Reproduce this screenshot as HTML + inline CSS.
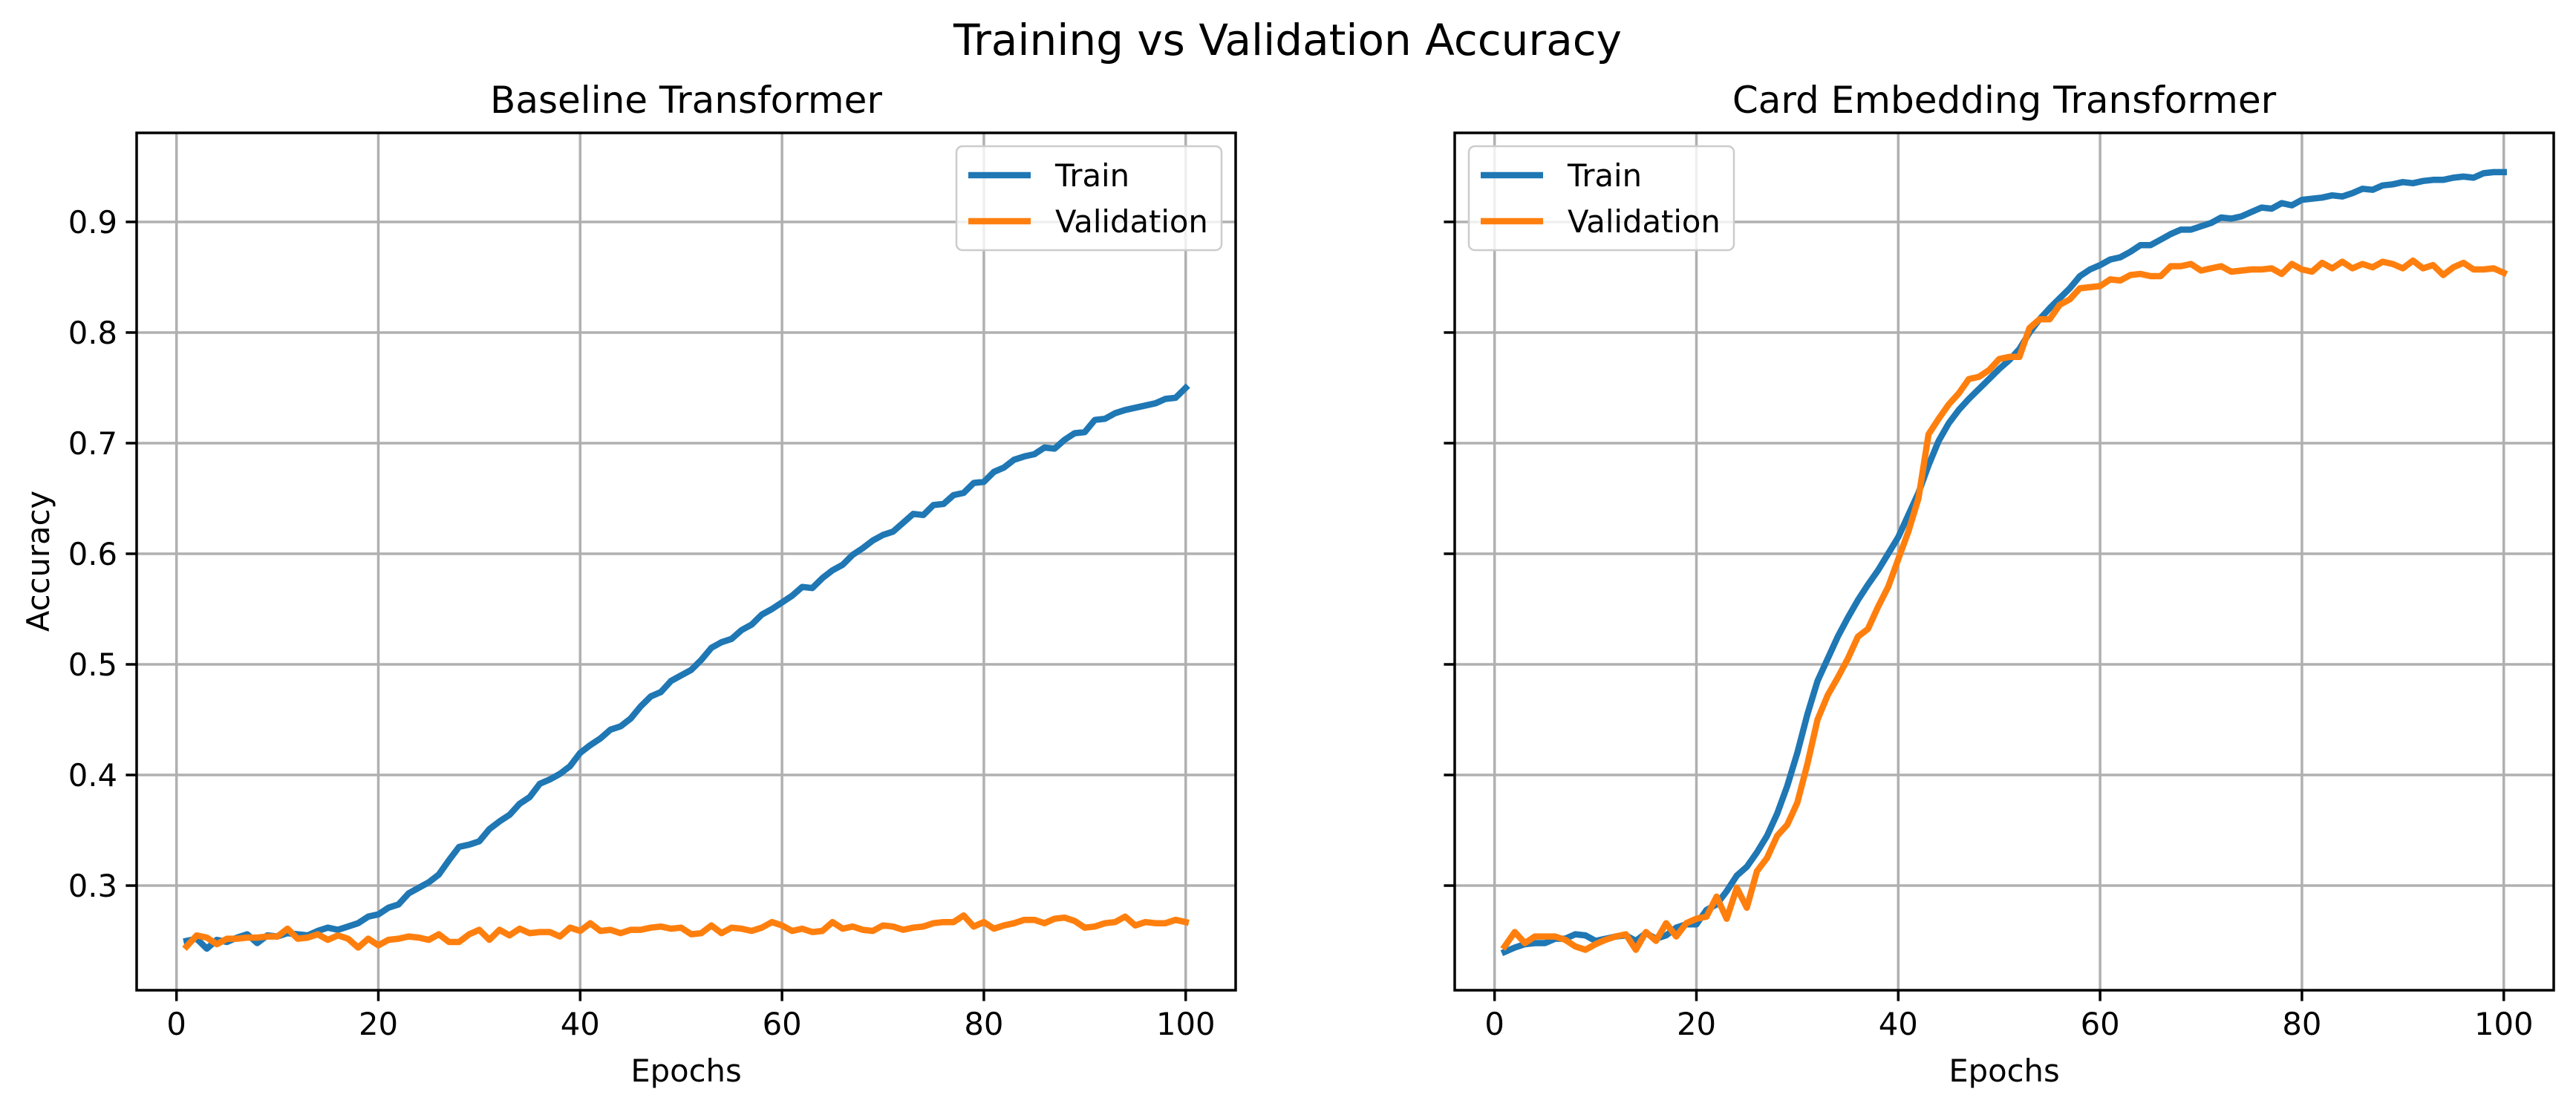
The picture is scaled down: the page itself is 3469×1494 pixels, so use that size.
<!DOCTYPE html>
<html><head><meta charset="utf-8"><style>
html,body{margin:0;padding:0;background:#fff}
svg{display:block;font-family:"DejaVu Sans","Liberation Sans",sans-serif}
</style></head><body>
<svg id="fig" width="3469" height="1494" viewBox="0 0 3469 1494" xmlns="http://www.w3.org/2000/svg">
<rect width="3469" height="1494" fill="#fff"/>
<text x="1734" y="74" font-size="58" text-anchor="middle">Training vs Validation Accuracy</text>
</svg>
<script>
const epochs = Array.from({length:100},(_,i)=>i+1);
const baseTrain = [.250,.252,.243,.251,.249,.253,.256,.248,.255,.254,
.257,.256,.255,.259,.262,.260,.263,.266,.272,.274,
.280,.283,.293,.298,.303,.310,.323,.335,.337,.340,
.351,.358,.364,.374,.380,.392,.396,.401,.408,.420,
.427,.433,.441,.444,.451,.462,.471,.475,.485,.490,
.495,.504,.515,.520,.523,.531,.536,.545,.550,.556,
.562,.570,.569,.578,.585,.590,.599,.605,.612,.617,
.620,.628,.636,.635,.644,.645,.653,.655,.664,.665,
.674,.678,.685,.688,.690,.696,.695,.703,.709,.710,
.721,.722,.727,.730,.732,.734,.736,.740,.741,.750];
const baseVal = [.245,.255,.253,.247,.252,.252,.253,.253,.254,.254,
.261,.252,.253,.256,.251,.255,.252,.244,.252,.246,
.251,.252,.254,.253,.251,.256,.249,.249,.256,.260,
.251,.260,.255,.261,.257,.258,.258,.254,.262,.259,
.266,.259,.260,.257,.260,.260,.262,.263,.261,.262,
.256,.257,.264,.257,.262,.261,.259,.262,.267,.264,
.259,.261,.258,.259,.267,.261,.263,.260,.259,.264,
.263,.260,.262,.263,.266,.267,.267,.273,.263,.267,
.261,.264,.266,.269,.269,.266,.270,.271,.268,.262,
.263,.266,.267,.272,.264,.267,.266,.266,.269,.267];
const cardTrain = [.240,.244,.247,.248,.248,.252,.252,.256,.255,.250,
.252,.254,.255,.250,.257,.252,.255,.262,.265,.265,
.278,.283,.295,.309,.317,.330,.345,.365,.390,.420,
.455,.485,.505,.525,.542,.558,.572,.585,.600,.615,
.635,.655,.680,.702,.718,.730,.740,.749,.758,.767,
.775,.785,.800,.812,.822,.831,.840,.851,.857,.861,
.866,.868,.873,.879,.879,.884,.889,.893,.893,.896,
.899,.904,.903,.905,.909,.913,.912,.917,.915,.920,
.921,.922,.924,.923,.926,.930,.929,.933,.934,.936,
.935,.937,.938,.938,.940,.941,.940,.944,.945,.945];
const cardVal = [.245,.258,.248,.254,.254,.254,.251,.245,.242,.247,
.251,.254,.256,.242,.258,.250,.266,.254,.266,.270,
.272,.290,.270,.298,.280,.313,.325,.345,.355,.375,
.410,.450,.472,.488,.505,.525,.532,.552,.570,.595,
.620,.650,.708,.722,.735,.745,.758,.760,.766,.776,
.778,.778,.804,.812,.812,.825,.830,.840,.841,.842,
.848,.847,.852,.853,.851,.851,.860,.860,.862,.856,
.858,.860,.855,.856,.857,.857,.858,.853,.862,.857,
.855,.863,.858,.864,.858,.862,.859,.864,.862,.858,
.865,.858,.861,.852,.859,.863,.857,.857,.858,.854];
const xTicks = [0,20,40,60,80,100];
const yTicks = [0.3,0.4,0.5,0.6,0.7,0.8,0.9];
const seriesNames = ["Train","Validation"];
const seriesColors = ["#1f77b4","#ff7f0e"];

const NS="http://www.w3.org/2000/svg";
const svg=document.getElementById('fig');
function mk(tag,attrs,parent){const e=document.createElementNS(NS,tag);for(const k in attrs)e.setAttribute(k,attrs[k]);(parent||svg).appendChild(e);return e;}
const X0=-3.95,X1=104.95,Y0=0.2054,Y1=0.9805,TOP=179,BOT=1334;
function yS(v){return BOT-(v-Y0)/(Y1-Y0)*(BOT-TOP);}

function panel(L,R,title,train,val,showYLabels,legendX,key){
  const xS=v=>L+(v-X0)/(X1-X0)*(R-L);
  const g=mk('g',{});
  
  
  for(const t of xTicks){
    const l=mk('line',{x1:xS(t),x2:xS(t),y1:TOP,y2:BOT,stroke:'#b0b0b0','stroke-width':3.5},g);
    
    
    const tk=mk('line',{x1:xS(t),x2:xS(t),y1:BOT,y2:BOT+14.6,stroke:'#000','stroke-width':3.5},g);
    
    
    const tx=mk('text',{x:xS(t),y:BOT+60,'font-size':41.7,'text-anchor':'middle'},g);
    tx.textContent=t;
    
    
  }
  for(const t of yTicks){
    const l=mk('line',{x1:L,x2:R,y1:yS(t),y2:yS(t),stroke:'#b0b0b0','stroke-width':3.5},g);
    
    
    const tk=mk('line',{x1:L-14.6,x2:L,y1:yS(t),y2:yS(t),stroke:'#000','stroke-width':3.5},g);
    
    
    if(showYLabels){
      const tx=mk('text',{x:L-26,y:yS(t)+15,'font-size':41.7,'text-anchor':'end'},g);
      tx.textContent=t.toFixed(1);
      
      
    }
  }
  [train,val].forEach((s,i)=>{
    const p=mk('polyline',{points:s.map((v,j)=>xS(epochs[j]).toFixed(1)+','+yS(v).toFixed(1)).join(' '),fill:'none',stroke:seriesColors[i],'stroke-width':8.5,'stroke-linejoin':'round','stroke-linecap':'square'},g);
    
    
  });
  const fr=mk('rect',{x:L,y:TOP,width:R-L,height:BOT-TOP,fill:'none',stroke:'#000','stroke-width':3.5},g);
  
  
  const ti=mk('text',{x:(L+R)/2,y:152,'font-size':50,'text-anchor':'middle'},g);
  ti.textContent=title;
  
  
  const xl=mk('text',{x:(L+R)/2,y:1457,'font-size':41.7,'text-anchor':'middle'},g);
  xl.textContent='Epochs';
  
  
  const lg=mk('g',{},g);
  
  
  mk('rect',{x:legendX,y:197,width:357,height:140,rx:8,fill:'#fff','fill-opacity':0.8,stroke:'#ccc','stroke-width':2.5},lg);
  seriesNames.forEach((n,i)=>{
    const y=236+i*62;
    const ln=mk('line',{x1:legendX+16,x2:legendX+100,y1:y,y2:y,stroke:seriesColors[i],'stroke-width':8.5},lg);
    
    
    const t=mk('text',{x:legendX+133,y:y+15,'font-size':41.7},lg);
    t.textContent=n;
    
    
  });
}
panel(184,1664,'Baseline Transformer',baseTrain,baseVal,true,1288,'baseline');
panel(1959,3439,'Card Embedding Transformer',cardTrain,cardVal,false,1978,'card-embedding');
const yl=mk('text',{x:0,y:0,'font-size':41.7,'text-anchor':'middle',transform:'translate(66,756) rotate(-90)'});
yl.textContent='Accuracy';


</script>
</body></html>
